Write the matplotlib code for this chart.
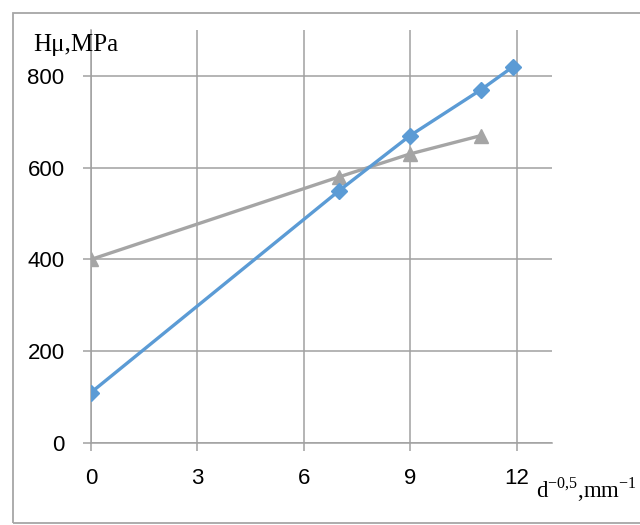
import matplotlib.pyplot as plt
from matplotlib.patches import Rectangle

# data
x_blue = [0, 7, 9, 11, 11.9]
y_blue = [110, 550, 670, 770, 820]
x_gray = [0, 7, 9, 11]
y_gray = [400, 580, 630, 670]
xticks = [0, 3, 6, 9, 12]
yticks = [0, 200, 400, 600, 800]

grid_c = "#a0a0a0"

fig = plt.figure(figsize=(6.4, 5.25), dpi=100)
ax = fig.add_axes([91/640, 1 - 443/525, (552 - 91)/640, (443 - 30)/525])

ax.plot(x_gray, y_gray, color="#a5a5a5", lw=2.4, marker="^", ms=10, zorder=3)
ax.plot(x_blue, y_blue, color="#5b9bd5", lw=2.4, marker="D", ms=8, zorder=4)

ax.set_xlim(0, 13)
ax.set_ylim(0, 900)
ax.set_xticks(xticks)
ax.set_yticks(yticks)
ax.grid(True, color=grid_c, lw=1.1)
ax.set_axisbelow(True)
for s in ["top", "right"]:
    ax.spines[s].set_visible(False)
for s in ["left", "bottom"]:
    ax.spines[s].set_color(grid_c)
    ax.spines[s].set_linewidth(1.1)
ax.tick_params(axis="both", colors=grid_c, length=6, width=1.1, labelcolor="black",
               labelsize=16)
ax.tick_params(axis="y", pad=13)
ax.tick_params(axis="x", pad=12)
for lbl in ax.get_xticklabels() + ax.get_yticklabels():
    lbl.set_family("Liberation Sans")

fig.text(33/640, 1 - 51/525, "Hμ,MPa", family="Liberation Serif", fontsize=18,
         va="baseline", ha="left")
fig.text(536/640, 1 - 497/525, r"d$^{\mathregular{−0{,}5}}$,mm$^{\mathregular{−1}}$",
         family="Liberation Serif", fontsize=16.5, va="baseline", ha="left")

fig.patches.append(Rectangle((13/640, 1 - 523/525), 1.0, (523 - 13)/525,
                             transform=fig.transFigure, fill=False,
                             edgecolor="#a6a6a6", lw=1.3))

fig.savefig("out.png", dpi=100)
